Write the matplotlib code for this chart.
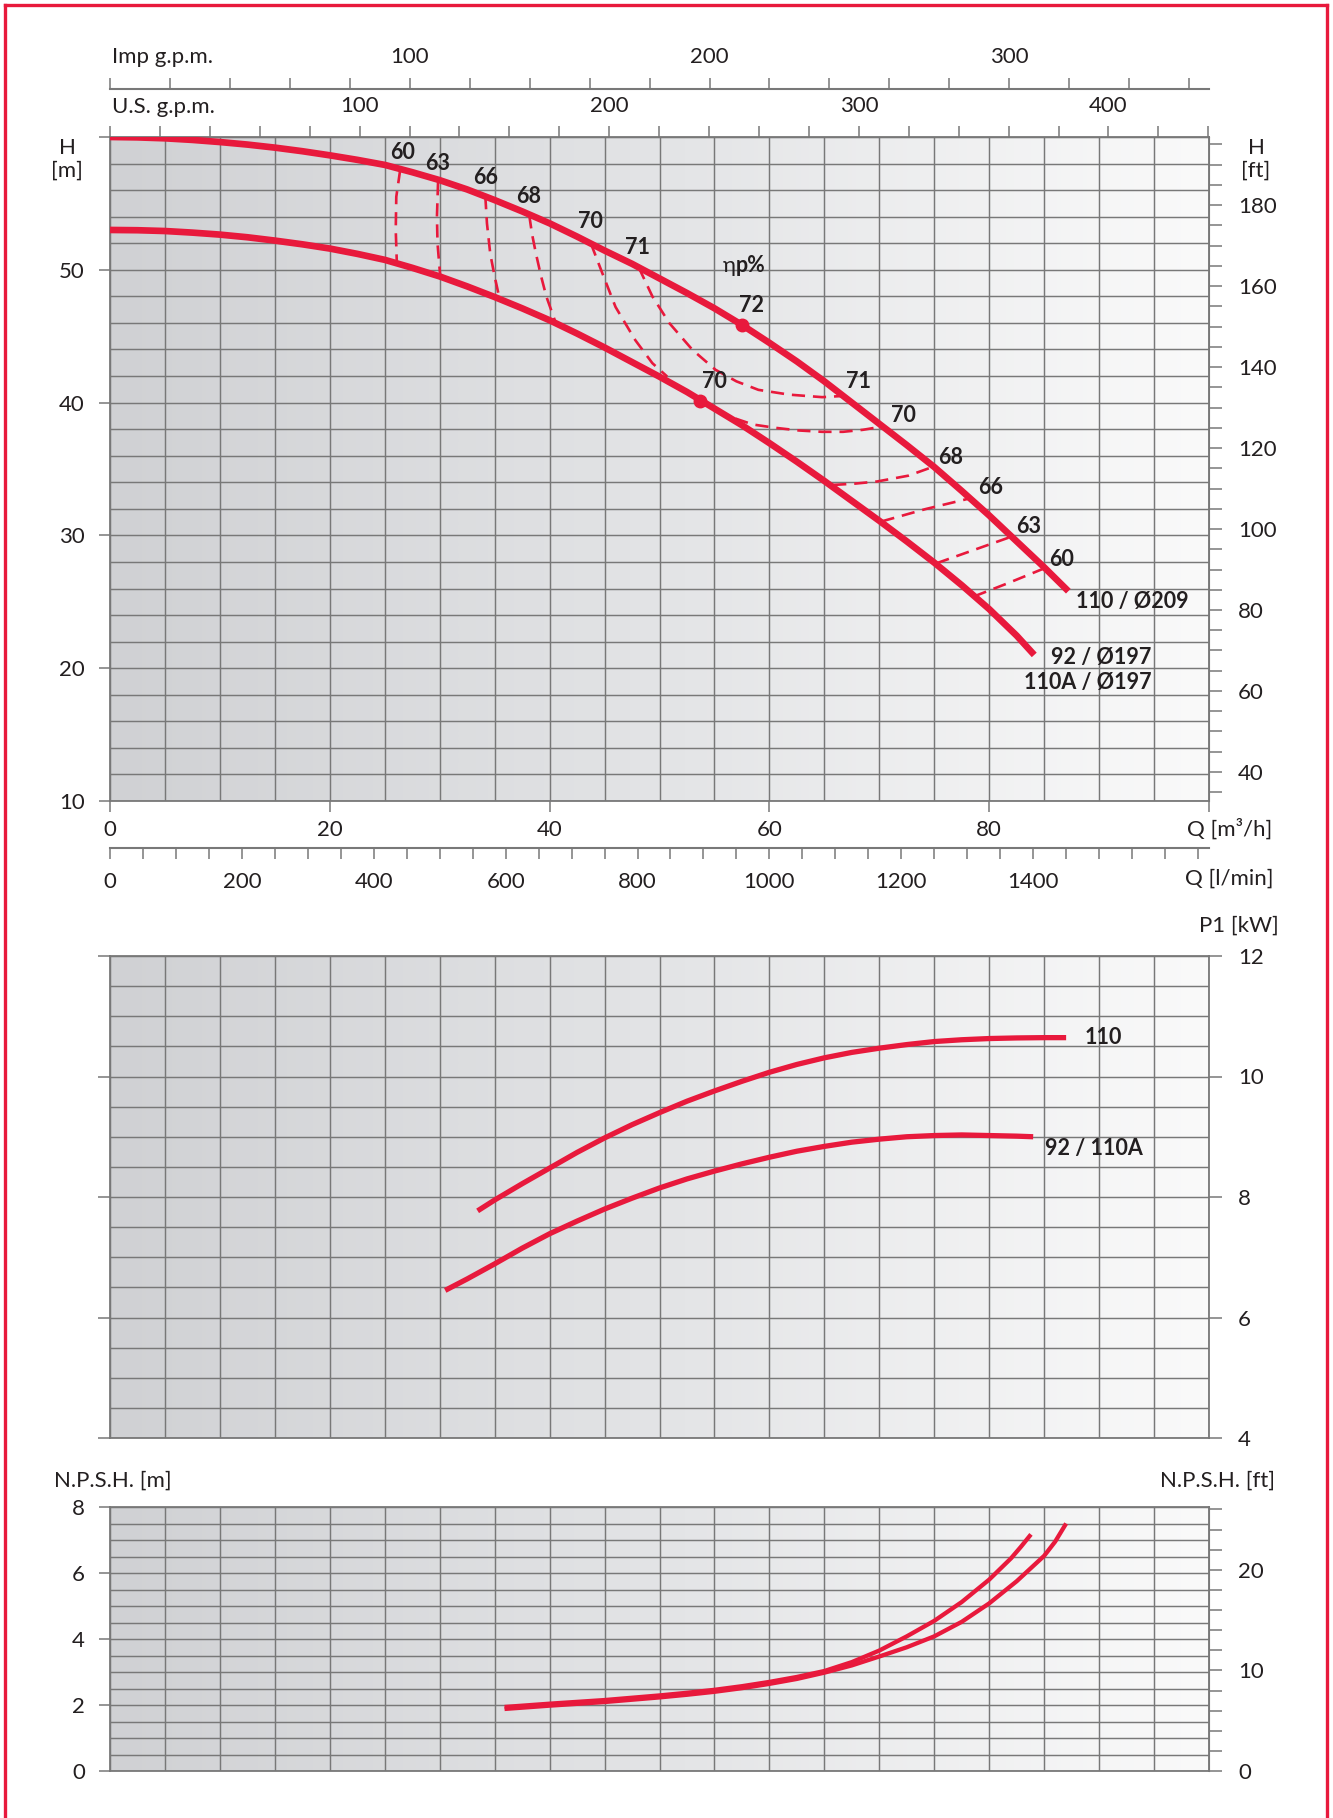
import numpy as np
import matplotlib
matplotlib.use("Agg")
import matplotlib.pyplot as plt
from matplotlib.colors import LinearSegmentedColormap
from matplotlib.ticker import FuncFormatter

plt.rcParams["font.family"] = ["Lato", "DejaVu Sans"]

RED = "#e8193c"
INK = "#231f20"
GRID = "#787878"
FS = 16      # regular text
FSB = 15.5   # bold curve labels

# ---- H-Q curves (Q m3/h, H m) ----
q_110 = [0, 2.5, 5, 7.5, 10, 12.5, 15, 17.5, 20, 22.5, 25, 27.5, 30, 32.5, 35, 37.5, 40, 42.5,
         45, 47.5, 50, 52.5, 55, 57.5, 60, 62.5, 65, 67.5, 70, 72.5, 75, 77.5, 80, 82.5, 85, 87.2]
h_110 = [60.0, 59.97, 59.9, 59.78, 59.62, 59.43, 59.2, 58.93, 58.62, 58.28, 57.9, 57.35, 56.75,
         56.05, 55.25, 54.4, 53.5, 52.5, 51.45, 50.45, 49.35, 48.25, 47.1, 45.85, 44.5, 43.1,
         41.6, 40.0, 38.4, 36.8, 35.15, 33.35, 31.5, 29.55, 27.6, 25.8]
q_92 = [0, 2.5, 5, 7.5, 10, 12.5, 15, 17.5, 20, 22.5, 25, 27.5, 30, 32.5, 35, 37.5, 40, 42.5,
        45, 47.5, 50, 52.5, 55, 57.5, 60, 62.5, 65, 67.5, 70, 72.5, 75, 77.5, 80, 82.5, 84.1]
h_92 = [53.0, 52.98, 52.92, 52.8, 52.65, 52.45, 52.2, 51.92, 51.6, 51.2, 50.75, 50.15, 49.5,
        48.75, 47.95, 47.1, 46.2, 45.2, 44.15, 43.05, 41.95, 40.8, 39.55, 38.3, 36.95, 35.55,
        34.1, 32.6, 31.1, 29.55, 27.95, 26.25, 24.45, 22.45, 21.0]

# best efficiency points
bep_q = [57.5, 53.7]
bep_h = [45.85, 40.15]

# efficiency iso-lines (dashed), (Q list, H list)
eff_lines = [
    ([26.4, 26.05, 26.0, 26.1], [57.5, 55.5, 53.0, 50.5]),
    ([29.85, 29.75, 29.8, 30.05], [56.6, 54.0, 52.0, 49.5]),
    ([34.15, 34.3, 34.6, 35.0, 35.4], [55.55, 53.5, 51.2, 49.5, 48.0]),
    ([38.15, 38.4, 38.75, 39.2, 39.7, 40.6], [54.1, 52.7, 51.25, 49.6, 48.0, 45.9]),
    ([43.75, 44.8, 46.0, 47.8, 49.35, 50.7], [52.0, 49.74, 47.2, 44.7, 42.97, 41.96]),
    ([48.1, 49.35, 50.9, 53.0, 55.1, 57.0, 59.0, 61.8, 64.8, 66.7],
     [50.2, 48.0, 45.98, 43.97, 42.47, 41.6, 40.96, 40.6, 40.41, 40.5]),
    ([56.9, 58.5, 60.55, 62.7, 64.8, 66.7, 68.5, 70.3],
     [38.8, 38.35, 38.1, 37.9, 37.8, 37.8, 37.95, 38.2]),
    ([65.8, 67.8, 69.8, 72.66, 75.0], [33.8, 33.9, 34.06, 34.5, 35.2]),
    ([70.2, 74.2, 78.3], [31.05, 31.98, 32.8]),
    ([75.2, 78.6, 82.0], [27.9, 28.9, 29.9]),
    ([78.6, 81.7, 85.1], [25.4, 26.4, 27.55]),
]

eff_labels = ["60", "63", "66", "68", "70", "71", "72", "70", "71", "70", "68", "66", "63", "60"]
eff_lab_q = [26.6, 29.8, 34.2, 38.1, 43.7, 48.0, 58.4, 55.0, 68.1, 72.2, 76.5, 80.1, 83.6, 86.6]
eff_lab_h = [58.8, 58.0, 56.97, 55.5, 53.6, 51.7, 47.3, 41.6, 41.6, 39.0, 35.9, 33.6, 30.7, 28.2]

# ---- P1 curves (kW) ----
p_q_110 = [33.45, 35, 37.5, 40, 42.5, 45, 47.5, 50, 52.5, 55, 57.5, 60, 62.5, 65, 67.5, 70,
           72.5, 75, 77.5, 80, 82.5, 85, 87.0]
p_110 = [7.77, 7.95, 8.22, 8.48, 8.74, 8.98, 9.2, 9.4, 9.59, 9.76, 9.92, 10.07, 10.2, 10.31,
         10.4, 10.47, 10.53, 10.58, 10.61, 10.63, 10.64, 10.645, 10.645]
p_q_92 = [30.5, 32.5, 35, 37.5, 40, 42.5, 45, 47.5, 50, 52.5, 55, 57.5, 60, 62.5, 65, 67.5, 70,
          72.5, 75, 77.5, 80, 82.5, 84.0]
p_92 = [6.45, 6.64, 6.89, 7.15, 7.39, 7.6, 7.8, 7.98, 8.15, 8.3, 8.43, 8.55, 8.66, 8.76, 8.84,
        8.91, 8.96, 9.0, 9.02, 9.03, 9.02, 9.01, 9.0]

# ---- NPSH curves (m) ----
n_q_a = [35.9, 40, 45, 50, 52.5, 55, 57.5, 60, 62.5, 65, 67.5, 70, 72.5, 75, 77.5, 80, 82, 82.9, 83.8]
n_a = [1.94, 2.04, 2.15, 2.29, 2.37, 2.46, 2.57, 2.7, 2.85, 3.03, 3.3, 3.65, 4.08, 4.55, 5.12,
       5.8, 6.45, 6.8, 7.17]
n_q_b = [35.9, 40, 45, 50, 52.5, 55, 57.5, 60, 62.5, 65, 67.5, 70, 72.5, 75, 77.5, 80, 82.5, 85,
         86, 87.0]
n_b = [1.88, 1.98, 2.09, 2.23, 2.31, 2.4, 2.51, 2.64, 2.79, 2.98, 3.2, 3.47, 3.75, 4.08, 4.52,
       5.08, 5.75, 6.52, 6.95, 7.5]

W, H = 1333, 1818
fig = plt.figure(figsize=(W / 100, H / 100), dpi=100)
fig.patch.set_facecolor("white")


def fx(px):
    return px / W


def fy(py):
    return 1 - py / H


def rect(left, top, right, bottom):
    return [fx(left), fy(bottom), fx(right) - fx(left), fy(top) - fy(bottom)]


bg_cmap = LinearSegmentedColormap.from_list("bg", ["#d0d1d4", "#e3e4e6", "#fafafa"])


def setup(ax, ymin, ymax, ystep):
    ax.set_xlim(0, 100)
    ax.set_ylim(ymin, ymax)
    ax.imshow(np.linspace(0, 1, 256).reshape(1, -1), cmap=bg_cmap, aspect="auto",
              extent=[0, 100, ymin, ymax], zorder=0, interpolation="bilinear")
    ax.set_xticks(np.arange(0, 101, 5), minor=True)
    ax.set_yticks(np.arange(ymin, ymax + 0.001, ystep), minor=True)
    ax.grid(True, which="both", color=GRID, lw=1.05, zorder=1)
    ax.set_axisbelow(True)
    for s in ax.spines.values():
        s.set_color(GRID)
        s.set_linewidth(1.3)
    ax.tick_params(which="minor", length=0)
    ax.tick_params(which="major", color=GRID, width=1.1, length=8, labelsize=FS,
                   labelcolor=INK)


def curve(ax, q, v, lw):
    ax.plot(q, v, color=RED, lw=lw, solid_capstyle="butt", solid_joinstyle="round", zorder=4)


# ================= H-Q chart =================
ax = fig.add_axes(rect(110, 137, 1209, 801))
setup(ax, 10, 60, 2)
ax.set_xticks([0, 20, 40, 60, 80, 100])
ax.set_xticklabels(["0", "20", "40", "60", "80", ""])
ax.set_yticks([10, 20, 30, 40, 50, 60])
ax.set_yticklabels(["10", "20", "30", "40", "50", ""])
ax.tick_params(axis="x", pad=6)
ax.tick_params(axis="y", pad=10)

for qs, hs in eff_lines:
    ln, = ax.plot(qs, hs, color=RED, lw=1.9, zorder=3)
    ln.set_dashes((5, 3))
curve(ax, q_110, h_110, 4.8)
curve(ax, q_92, h_92, 4.8)
ax.plot(bep_q, bep_h, "o", color=RED, ms=9, zorder=5)
for t, q, h in zip(eff_labels, eff_lab_q, eff_lab_h):
    ax.text(q, h, t, ha="center", va="center", fontsize=FSB, fontweight="bold",
            color=INK, zorder=6)
ax.text(56.9, 49.85, "η", ha="right", va="baseline", fontsize=FS, color=INK, zorder=6)
ax.text(56.9, 49.85, "p%", ha="left", va="baseline", fontsize=FSB, fontweight="bold",
        color=INK, zorder=6)
ax.text(87.9, 25.0, "110 / Ø209", ha="left", va="center", fontsize=FSB,
        fontweight="bold", color=INK, zorder=6)
ax.text(94.8, 20.8, "92 / Ø197", ha="right", va="center", fontsize=FSB,
        fontweight="bold", color=INK, zorder=6)
ax.text(94.8, 18.9, "110A / Ø197", ha="right", va="center", fontsize=FSB,
        fontweight="bold", color=INK, zorder=6)

# right axis in feet
axr = ax.twinx()
axr.set_ylim(10 * 3.28084, 60 * 3.28084)
axr.set_yticks(np.arange(35, 196, 5))
axr.yaxis.set_major_formatter(FuncFormatter(
    lambda v, p: f"{int(round(v))}" if round(v) % 20 == 0 and 40 <= round(v) <= 180 else ""))
for k, s in axr.spines.items():
    s.set_visible(k == "right")
    s.set_color(GRID)
axr.tick_params(axis="y", color=GRID, width=1.1, length=9, pad=12, labelsize=FS,
                labelcolor=INK)


def lab100(v, p):
    r = int(round(v))
    return str(r) if r % 100 == 0 and r > 0 else ""


# U.S. gpm on top of the plot
us = ax.secondary_xaxis("top", functions=(lambda q: q * 4.40287, lambda g: g / 4.40287))
us.set_xticks(np.arange(0, 441, 20))
us.xaxis.set_major_formatter(FuncFormatter(lab100))
us.tick_params(color=GRID, width=1.1, length=8, pad=7, labelsize=FS, labelcolor=INK)
us.spines["top"].set_color(GRID)

# Imp gpm above
imp = ax.secondary_xaxis(1.0723, functions=(lambda q: q * 3.66615, lambda g: g / 3.66615))
imp.set_xticks(np.arange(0, 361, 20))
imp.xaxis.set_major_formatter(FuncFormatter(lab100))
imp.tick_params(color=GRID, width=1.1, length=8, pad=8, labelsize=FS, labelcolor=INK)
for s in imp.spines.values():
    s.set_color(GRID)
    s.set_linewidth(1.5)

# l/min below
lpm = ax.secondary_xaxis(-0.0708, functions=(lambda q: q * 1000 / 60, lambda l: l * 60 / 1000))
lpm.set_xticks(np.arange(0, 1651, 50))
lpm.xaxis.set_major_formatter(FuncFormatter(
    lambda v, p: str(int(round(v))) if round(v) % 200 == 0 and round(v) <= 1400 else ""))
lpm.tick_params(color=GRID, width=1.1, length=8, pad=9, labelsize=FS, labelcolor=INK)
for s in lpm.spines.values():
    s.set_color(GRID)
    s.set_linewidth(1.5)

fig.text(fx(112), fy(57), "Imp g.p.m.", ha="left", va="center", fontsize=FS, color=INK)
fig.text(fx(112), fy(107), "U.S. g.p.m.", ha="left", va="center", fontsize=FS, color=INK)
fig.text(fx(67), fy(159), "H\n[m]", ha="center", va="center", fontsize=FS, color=INK,
         linespacing=1.15)
fig.text(fx(1256), fy(159), "H\n[ft]", ha="center", va="center", fontsize=FS, color=INK,
         linespacing=1.15)
fig.text(fx(1230), fy(829), "Q [m³/h]", ha="center", va="center", fontsize=FS, color=INK)
fig.text(fx(1229), fy(879), "Q [l/min]", ha="center", va="center", fontsize=FS, color=INK)

# ================= P1 chart =================
axp = fig.add_axes(rect(110, 956, 1209, 1438))
setup(axp, 4, 12, 0.5)
axp.set_xticks([])
axp.set_yticks([4, 6, 8, 10, 12])
axp.tick_params(axis="y", left=True, right=True, labelleft=False, labelright=True,
                length=9, pad=12)
curve(axp, p_q_110, p_110, 3.8)
curve(axp, p_q_92, p_92, 3.8)
axp.text(88.7, 10.64, "110", ha="left", va="center", fontsize=FSB, fontweight="bold",
         color=INK)
axp.text(85.1, 8.81, "92 / 110A", ha="left", va="center", fontsize=FSB, fontweight="bold",
         color=INK)
fig.text(fx(1239), fy(926), "P1 [kW]", ha="center", va="center", fontsize=FS, color=INK)

# ================= NPSH chart =================
axn = fig.add_axes(rect(110, 1507, 1209, 1771))
setup(axn, 0, 8, 0.5)
axn.set_xticks([])
axn.set_yticks([0, 2, 4, 6, 8])
axn.tick_params(axis="y", pad=10)
curve(axn, n_q_b, n_b, 3.1)
curve(axn, n_q_a, n_a, 3.1)

axnr = axn.twinx()
axnr.set_ylim(0, 8 * 3.28084)
axnr.set_yticks(np.arange(0, 27, 2))
axnr.yaxis.set_major_formatter(FuncFormatter(
    lambda v, p: str(int(round(v))) if round(v) % 10 == 0 else ""))
for k, s in axnr.spines.items():
    s.set_visible(k == "right")
    s.set_color(GRID)
axnr.tick_params(axis="y", color=GRID, width=1.1, length=9, pad=12, labelsize=FS,
                 labelcolor=INK)

fig.text(fx(113), fy(1481), "N.P.S.H. [m]", ha="center", va="center", fontsize=FS, color=INK)
fig.text(fx(1217), fy(1481), "N.P.S.H. [ft]", ha="center", va="center", fontsize=FS, color=INK)

# red frame (left, top, right)
fig.add_artist(plt.Line2D([fx(5), fx(5)], [0, fy(5)], color=RED, lw=2.4))
fig.add_artist(plt.Line2D([fx(5), fx(1327)], [fy(5), fy(5)], color=RED, lw=2.4))
fig.add_artist(plt.Line2D([fx(1327), fx(1327)], [0, fy(5)], color=RED, lw=2.4))

fig.savefig("out.png", dpi=100)
